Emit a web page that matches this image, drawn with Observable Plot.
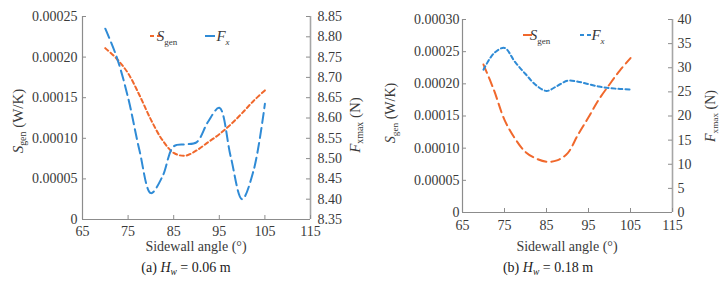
<!DOCTYPE html>
<html><head><meta charset="utf-8">
<script src="https://cdn.jsdelivr.net/npm/d3@7"></script>
<script src="https://cdn.jsdelivr.net/npm/@observablehq/plot@0.6"></script>
<style>
body{margin:0;background:#fff;}
#wrap{position:relative;width:724px;height:284px;overflow:hidden;background:#fff;}
</style></head><body><div id="wrap"></div>
<script>
// ---- data ----
const angles = [70,72.5,75,77.5,80,82.5,85,87.5,90,92.5,95,97.5,100,102.5,105];
const sgenA = [0.000211,0.000198,0.000180,0.000153,0.000123,0.000098,0.000082,0.0000785,0.000085,0.000095,0.000105,0.000117,0.000131,0.000146,0.000159];
const fxA   = [8.82,8.75,8.65,8.52,8.415,8.455,8.53,8.535,8.54,8.59,8.625,8.505,8.40,8.47,8.635];
const sgenB = [0.00023,0.00019,0.000144,0.000115,0.000094,0.000084,0.000079,0.000081,0.000092,0.000121,0.000148,0.000176,0.000199,0.000221,0.00024];
const fxB   = [29.6,33.0,34.1,31.2,28.7,26.4,25.2,26.2,27.3,27.1,26.6,26.1,25.8,25.6,25.5];

const xTicks = [65,75,85,95,105,115];
const leftTicksA = [0,0.00005,0.0001,0.00015,0.0002,0.00025];
const leftLabelsA = ["0","0.00005","0.00010","0.00015","0.00020","0.00025"];
const rightTicksA = [8.35,8.40,8.45,8.50,8.55,8.60,8.65,8.70,8.75,8.80,8.85];
const rightLabelsA = ["8.35","8.40","8.45","8.50","8.55","8.60","8.65","8.70","8.75","8.80","8.85"];
const leftTicksB = [0,0.00005,0.0001,0.00015,0.0002,0.00025,0.0003];
const leftLabelsB = ["0","0.00005","0.00010","0.00015","0.00020","0.00025","0.00030"];
const rightTicksB = [0,5,10,15,20,25,30,35,40];
const rightLabelsB = ["0","5","10","15","20","25","30","35","40"];

const SERIF = "'Liberation Serif','Times New Roman',serif";
const ORANGE = "#f0682c";
const BLUE = "#2f8bd6";
const AXIS = "#8c8c8c";
const AXIS2 = "#a6a6a6";
const TXT = "#3a3a3a";

function drawPanel(o) {
  const W = 362, H = 284;
  const pw = W - o.ml - o.mr, ph = H - o.mt - o.mb;
  const [l0, l1] = o.leftDomain, [r0, r1] = o.rightDomain;
  const toLeft = v => l0 + (v - r0) / (r1 - r0) * (l1 - l0);
  const sData = angles.map((a, i) => ({a, v: o.sgen[i]}));
  const fData = angles.map((a, i) => ({a, v: toLeft(o.fx[i])}));
  const leftMap = new Map(o.leftTicks.map((t, i) => [t, o.leftLabels[i]]));
  const rightPos = o.rightTicks.map(toLeft);
  const rightMap = new Map(rightPos.map((p, i) => [p, o.rightLabels[i]]));
  const svg = Plot.plot({
    width: W, height: H,
    marginLeft: o.ml, marginRight: o.mr, marginTop: o.mt, marginBottom: o.mb,
    x: {domain: [65, 115]},
    y: {domain: o.leftDomain},
    style: {fontFamily: SERIF, fontSize: "14px", color: TXT, background: "transparent", overflow: "visible"},
    marks: [
      Plot.ruleX([65], {stroke: AXIS, strokeWidth: 1.2}),
      Plot.ruleX([115], {stroke: AXIS2, strokeWidth: 1.6}),
      Plot.ruleY([l0], {stroke: AXIS, strokeWidth: 1.2}),
      Plot.tickX(xTicks, {x: d => d, insetTop: ph - 4, stroke: AXIS}),
      Plot.tickY(o.leftTicks, {y: d => d, insetRight: pw - 4, stroke: AXIS}),
      Plot.tickY(rightPos, {y: d => d, insetLeft: pw - 4, stroke: AXIS}),
      Plot.axisX(xTicks, {tickSize: 0, tickPadding: o.xpad, tickFormat: d => String(d), label: null, fontSize: 14}),
      Plot.axisY(o.leftTicks, {anchor: "left", tickSize: 0, tickPadding: o.lpad, tickFormat: d => leftMap.get(d), label: null, fontSize: 14}),
      Plot.axisY(rightPos, {anchor: "right", tickSize: 0, tickPadding: o.rpad, tickFormat: d => rightMap.get(d), label: null, fontSize: 14}),
      Plot.line(sData, {x: "a", y: "v", stroke: ORANGE, strokeWidth: 2, strokeDasharray: o.sDash, curve: "catmull-rom"}),
      Plot.line(fData, {x: "a", y: "v", stroke: BLUE, strokeWidth: 2, strokeDasharray: o.fDash, curve: "catmull-rom"})
    ]
  });
  svg.style.position = "absolute";
  svg.style.left = o.left + "px";
  svg.style.top = "0px";
  document.getElementById("wrap").appendChild(svg);

  const s = d3.select(svg);
  // x axis title
  s.append("text").attr("x", o.ml + pw / 2).attr("y", 251).attr("text-anchor", "middle")
    .attr("font-family", SERIF).attr("font-size", 14).attr("fill", TXT).text("Sidewall angle (°)");
  // caption
  const cap = s.append("text").attr("x", o.capX).attr("y", 272).attr("text-anchor", "middle")
    .attr("font-family", SERIF).attr("font-size", 14).attr("fill", "#222");
  cap.append("tspan").text(o.capPrefix + " ");
  cap.append("tspan").attr("font-style", "italic").text("H");
  cap.append("tspan").attr("font-size", 9.5).attr("font-style", "italic").attr("dy", 3).text("w");
  cap.append("tspan").attr("dy", -3).text(" = " + o.capValue);
  // left title
  const lt = s.append("text").attr("transform", `translate(${o.ltx},${o.lty}) rotate(-90)`)
    .attr("text-anchor", "middle").attr("font-family", SERIF).attr("font-size", o.tfs).attr("fill", TXT);
  lt.append("tspan").attr("font-style", "italic").text("S");
  lt.append("tspan").attr("font-size", o.tfs * 0.66).attr("dy", 3).text("gen");
  lt.append("tspan").attr("dy", -3).text(" (W/K)");
  // right title
  const rt = s.append("text").attr("transform", `translate(${o.rtx},${o.rty}) rotate(-90)`)
    .attr("text-anchor", "middle").attr("font-family", SERIF).attr("font-size", o.tfs).attr("fill", TXT);
  rt.append("tspan").attr("font-style", "italic").text("F");
  rt.append("tspan").attr("font-size", o.tfs * 0.66).attr("dy", 3).text("xmax");
  rt.append("tspan").attr("dy", -3).text(" (N)");
  // legend
  const ly = o.legY;
  s.append("line").attr("x1", o.legS).attr("x2", o.legS + 14).attr("y1", ly).attr("y2", ly)
    .attr("stroke", ORANGE).attr("stroke-width", 2).attr("stroke-dasharray", o.sDash);
  const st = s.append("text").attr("x", o.legS + 17).attr("y", ly + 5).attr("font-family", SERIF).attr("font-size", 15).attr("fill", TXT);
  st.append("tspan").attr("font-style", "italic").text("S");
  st.append("tspan").attr("font-size", 9).attr("dy", 4).text("gen");
  s.append("line").attr("x1", o.legF).attr("x2", o.legF + 15).attr("y1", ly).attr("y2", ly)
    .attr("stroke", BLUE).attr("stroke-width", 2).attr("stroke-dasharray", o.fDash);
  const ft = s.append("text").attr("x", o.legF + 18).attr("y", ly + 5).attr("font-family", SERIF).attr("font-size", 15).attr("fill", TXT);
  ft.append("tspan").attr("font-style", "italic").text("F");
  ft.append("tspan").attr("font-size", 9).attr("font-style", "italic").attr("dy", 4).text("x");
}

drawPanel({
  left: 0, ml: 82, mr: 52, mt: 16, mb: 65,
  leftDomain: [0, 0.00025], rightDomain: [8.35, 8.85],
  sgen: sgenA, fx: fxA,
  leftTicks: leftTicksA, leftLabels: leftLabelsA, rightTicks: rightTicksA, rightLabels: rightLabelsA,
  xpad: 7, lpad: 5, rpad: 7,
  sDash: "4,3", fDash: "10,5",
  capX: 186, capPrefix: "(a)", capValue: "0.06 m",
  tfs: 15, ltx: 23, lty: 121, rtx: 360, rty: 125,
  legY: 36, legS: 150, legF: 205
});
drawPanel({
  left: 362, ml: 100, mr: 52, mt: 19, mb: 72,
  leftDomain: [0, 0.0003], rightDomain: [0, 40],
  sgen: sgenB, fx: fxB,
  leftTicks: leftTicksB, leftLabels: leftLabelsB, rightTicks: rightTicksB, rightLabels: rightLabelsB,
  xpad: 8, lpad: 3, rpad: 5,
  sDash: "9,5", fDash: "4,3",
  capX: 186, capPrefix: "(b)", capValue: "0.18 m",
  tfs: 14, ltx: 33, lty: 113, rtx: 353, rty: 116,
  legY: 35, legS: 161, legF: 218
});
</script>
</body></html>
